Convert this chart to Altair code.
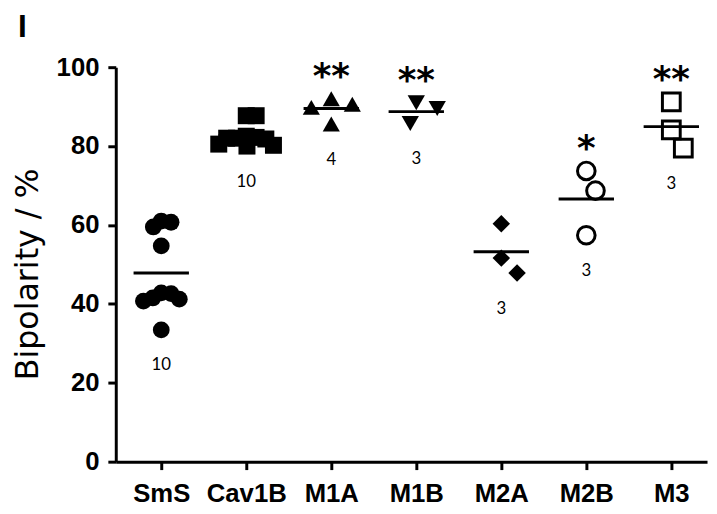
import json
import altair as alt
import pandas as pd

# ---- data ----
groups = ["SmS", "Cav1B", "M1A", "M1B", "M2A", "M2B", "M3"]
sms = [60.7, 61.0, 59.5, 54.7, 42.8, 41.5, 40.7, 41.2, 42.6, 33.4]
cav1b = [87.7, 87.7, 82.5, 82.2, 82.0, 82.0, 81.8, 80.5, 80.0, 80.2]
m1a = [90.6, 92.0, 89.8, 85.6]
m1b = [91.0, 89.5, 85.7]
m2a = [60.3, 51.6, 47.8]
m2b = [73.7, 68.7, 57.4]
m3 = [91.2, 84.1, 79.5]
stars = ["", "", "**", "**", "", "*", "**"]
y_ticks = [0, 20, 40, 60, 80, 100]
panel_label = "I"

series = [sms, cav1b, m1a, m1b, m2a, m2b, m3]

# ---- style ----
shapes = ["circle", "square", "triangle-up", "triangle-down", "diamond", "circle", "square"]
sizes = [289, 324, 300, 300, 289, 289, 225]
open_groups = ["M2B", "M3"]

W, H = 598, 399
XDOM = [-0.535, 6.42]
YDOM = [0, 100]
PX_X = W / (XDOM[1] - XDOM[0])
PX_Y = H / (YDOM[1] - YDOM[0])


def swarm(vals):
    # collision distance in px for the scatter spread (wider for small groups)
    D = 10.0 if len(vals) >= 8 else 22.0
    placed = []
    xs = [0.0] * len(vals)
    order = sorted(range(len(vals)), key=lambda i: -vals[i])
    for i in order:
        y = vals[i] * PX_Y
        cands = [0.0]
        for px, py in placed:
            dy = abs(py - y)
            if dy < D:
                dx = (D * D - dy * dy) ** 0.5
                cands += [px - dx, px + dx]
        cands.sort(key=lambda c: (round(abs(c), 6), -c))
        for c in cands:
            if all((c - px) ** 2 + (y - py) ** 2 >= D * D - 1e-6 for px, py in placed):
                xs[i] = c
                placed.append((c, y))
                break
    return xs


rows = []
for gi, (g, vals) in enumerate(zip(groups, series)):
    offs = swarm(vals)
    for v, o in zip(vals, offs):
        rows.append({"group": g, "gi": gi, "value": v, "xpos": gi + o / PX_X,
                     "stars": stars[gi]})
df = pd.DataFrame(rows)

label_expr = json.dumps(groups) + "[datum.value]"

x_scale = alt.Scale(domain=XDOM, nice=False, zero=False)
y_scale = alt.Scale(domain=YDOM, nice=False, zero=True)

x_axis = alt.Axis(values=list(range(len(groups))), labelExpr=label_expr, title=None,
                  grid=False, tickSize=8, tickWidth=3, domainWidth=3,
                  domainColor="black", tickColor="black", labelColor="black",
                  labelFont="Liberation Sans", labelFontWeight="bold", labelFontSize=26,
                  labelPadding=11, labelFlush=False, labelOverlap=False)
y_axis = alt.Axis(values=y_ticks, title="Bipolarity / %", grid=False, tickSize=8,
                  tickWidth=3, domainWidth=3, domainColor="black", tickColor="black",
                  labelColor="black", labelFont="Liberation Sans", labelFontWeight="bold",
                  labelFontSize=26, labelPadding=9, titleFont="DejaVu Sans",
                  titleFontSize=32, titleFontWeight="normal", titleColor="black",
                  titleAngle=270, titleX=-79, titleY=209, titleBaseline="alphabetic",
                  titleAlign="center")

base = alt.Chart(df)

shape_enc = alt.Shape("group:N", scale=alt.Scale(domain=groups, range=shapes), legend=None)
size_enc = alt.Size("group:N", scale=alt.Scale(domain=groups, range=sizes), legend=None)

pts_filled = base.transform_filter(
    alt.FieldOneOfPredicate(field="group", oneOf=[g for g in groups if g not in open_groups])
).mark_point(filled=True, color="black", opacity=1).encode(
    x=alt.X("xpos:Q", scale=x_scale, axis=x_axis),
    y=alt.Y("value:Q", scale=y_scale, axis=y_axis),
    shape=shape_enc, size=size_enc,
)

pts_open = base.transform_filter(
    alt.FieldOneOfPredicate(field="group", oneOf=open_groups)
).mark_point(filled=False, color="black", strokeWidth=3, opacity=1).encode(
    x=alt.X("xpos:Q", scale=x_scale),
    y=alt.Y("value:Q", scale=y_scale),
    shape=shape_enc, size=size_enc,
)

means = base.mark_tick(orient="horizontal", size=56, thickness=3, color="black").encode(
    x=alt.X("gi:Q", scale=x_scale),
    y=alt.Y("mean(value):Q", scale=y_scale),
)

nlab = base.mark_text(font="Lato", fontSize=17, color="black", dy=36,
                      baseline="middle").encode(
    x=alt.X("gi:Q", scale=x_scale),
    y=alt.Y("min(value):Q", scale=y_scale),
    text=alt.Text("count():Q"),
)

starlab = base.transform_filter("datum.stars != ''").mark_text(
    font="DejaVu Sans", fontWeight="bold", fontSize=36, color="black", dy=-11,
    baseline="alphabetic").encode(
    x=alt.X("gi:Q", scale=x_scale),
    y=alt.Y("max(value):Q", scale=y_scale),
    text=alt.Text("stars:N"),
)

panel = alt.Chart(pd.DataFrame({"t": [panel_label]})).mark_text(
    font="Liberation Sans", fontWeight="bold", fontSize=32, color="black",
    align="left", baseline="alphabetic").encode(
    x=alt.value(-99), y=alt.value(-31), text="t:N")

chart = alt.layer(pts_filled, pts_open, means, nlab, starlab, panel).properties(
    width=W, height=H,
    autosize=alt.AutoSizeParams(type="none"),
    padding={"left": 109, "top": 57, "right": 2, "bottom": 45},
).configure_view(stroke=None).configure_axis(grid=False)

chart.save("out.html", embed_options={"renderer": "svg", "actions": False})
